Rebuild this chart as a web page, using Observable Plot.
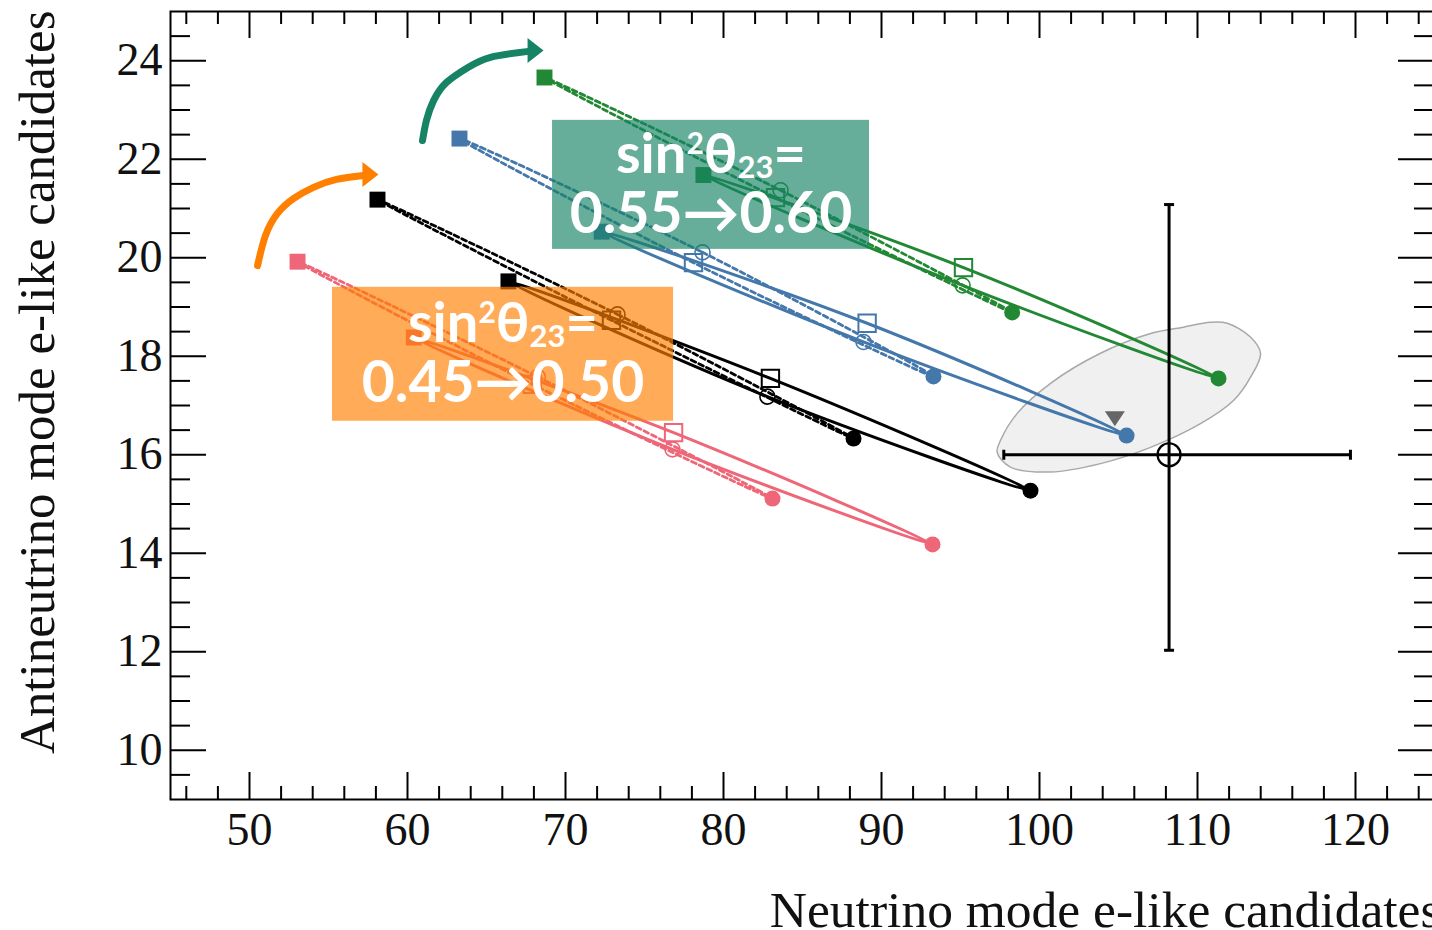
<!DOCTYPE html>
<html><head><meta charset="utf-8">
<script src="https://cdn.jsdelivr.net/npm/d3@7"></script>
<script src="https://cdn.jsdelivr.net/npm/@observablehq/plot@0.6"></script>
<style>
html,body{margin:0;padding:0;overflow:hidden;background:#fff;}
svg{display:block;max-width:none !important;}
</style></head><body><div id="chart"></div>
<script>
// ---------------- data ----------------
const xTitle = "Neutrino mode e-like candidates";
const yTitle = "Antineutrino mode e-like candidates";
const xMajorTicks = [50, 60, 70, 80, 90, 100, 110, 120];
const yMajorTicks = [10, 12, 14, 16, 18, 20, 22, 24];

// sin^2(theta23) families and their colours
const families = ["0.45", "0.50", "0.55", "0.60"];
const familyColors = ["#EE6677", "#000000", "#4477AA", "#228833"];

// every ellipse lists its 4 delta_CP markers in this order:
const markerKinds = ["filledSquare", "openSquare", "filledCircle", "openCircle"];

// normal hierarchy (solid)
const nh045X = [60.40, 76.84, 93.23, 76.77];
const nh045Y = [18.38, 16.45, 14.18, 16.11];
const nh050X = [66.39, 82.97, 99.43, 82.78];
const nh050Y = [19.52, 17.55, 15.27, 17.18];
const nh055X = [72.29, 89.09, 105.51, 88.86];
const nh055Y = [20.53, 18.67, 16.39, 18.29];
const nh060X = [78.73, 95.19, 111.33, 95.13];
const nh060Y = [21.68, 19.80, 17.55, 19.44];
// inverted hierarchy (dashed)
const ih045X = [53.04, 67.90, 83.10, 68.25];
const ih045Y = [19.92, 17.43, 15.11, 17.58];
const ih050X = [58.10, 72.91, 88.23, 73.29];
const ih050Y = [21.18, 18.73, 16.33, 18.85];
const ih055X = [63.29, 78.10, 93.29, 78.67];
const ih055Y = [22.42, 19.90, 17.59, 20.11];
const ih060X = [68.67, 83.29, 98.27, 83.61];
const ih060Y = [23.66, 21.22, 18.89, 21.37];

// observed data with asymmetric errors
const dataX = [108.2], dataY = [16.0];
const dataXLow = [97.74], dataXHigh = [119.68];
const dataYLow = [12.03], dataYHigh = [21.08];

// best fit (grey triangle)
const bestFitX = [104.77], bestFitY = [16.73];

// grey allowed region contour
const contourX = [97.32, 98.16, 100.70, 103.86, 107.03, 110.19, 112.28, 113.35, 113.99, 113.35, 111.88, 110.82, 109.11, 107.03, 103.86, 100.70, 98.59, 97.53];
const contourY = [16.05, 15.75, 15.65, 15.82, 16.15, 16.63, 17.10, 17.57, 18.06, 18.39, 18.67, 18.69, 18.59, 18.46, 18.06, 17.45, 16.84, 16.29];

// annotation boxes
const boxLine1 = "sin²θ₂₃=";
const boxLine2 = ["0.45→0.50", "0.55→0.60"];
const boxX1 = [55.25, 69.18], boxX2 = [76.84, 89.24];
const boxY1 = [16.68, 20.17], boxY2 = [19.40, 22.79];
const boxColors = ["#ff8000", "#178466"];

// curved arrows (path points and tip)
const arrowOrangeX = [50.51, 51.01, 51.77, 52.78, 54.05, 55.51, 57.22];
const arrowOrangeY = [19.84, 20.45, 20.90, 21.20, 21.43, 21.59, 21.67];
const arrowGreenX = [60.95, 61.20, 61.65, 62.47, 63.80, 65.25, 67.66];
const arrowGreenY = [22.38, 22.79, 23.19, 23.56, 23.86, 24.07, 24.19];
const arrowTipX = [58.16, 68.61], arrowTipY = [21.69, 24.21];

// ---------------- layout ----------------
const W = 1440, H = 930, ML = 170, MR = 6, MT = 11, MB = 131;
const PW = W - ML - MR, PH = H - MT - MB;
const serif = "Liberation Serif, Times New Roman, serif";
const sans = "Lato, Open Sans, DejaVu Sans, sans-serif";

const xMinorTicks = d3.range(46, 125, 2).filter(v => v % 10 !== 0);
const yMinorTicks = d3.range(9.5, 25, 0.5).filter(v => v % 2 !== 0);

const pts = (xs, ys) => xs.map((x, i) => ({x, y: ys[i]}));

const ellipses = [
  {f: 0, hier: "IH", xs: ih045X, ys: ih045Y}, {f: 1, hier: "IH", xs: ih050X, ys: ih050Y},
  {f: 2, hier: "IH", xs: ih055X, ys: ih055Y}, {f: 3, hier: "IH", xs: ih060X, ys: ih060Y},
  {f: 0, hier: "NH", xs: nh045X, ys: nh045Y}, {f: 1, hier: "NH", xs: nh050X, ys: nh050Y},
  {f: 2, hier: "NH", xs: nh055X, ys: nh055Y}, {f: 3, hier: "NH", xs: nh060X, ys: nh060Y}
];

const markerStyle = {
  filledSquare: c => ({symbol: "square", r: 9, fill: c, stroke: "none"}),
  openSquare: c => ({symbol: "square", r: 9.8, fill: "none", stroke: c, strokeWidth: 2}),
  filledCircle: c => ({symbol: "circle", r: 8, fill: c, stroke: "none"}),
  openCircle: c => ({symbol: "circle", r: 7.5, fill: "none", stroke: c, strokeWidth: 1.6})
};

const capV = {draw(ctx) { ctx.moveTo(0, -5); ctx.lineTo(0, 5); }};
const capH = {draw(ctx) { ctx.moveTo(-5, 0); ctx.lineTo(5, 0); }};
const headRight = {draw(ctx) { ctx.moveTo(0, 0); ctx.lineTo(-16, -12.5); ctx.lineTo(-16, 12.5); ctx.closePath(); }};
const triDown = {draw(ctx) { ctx.moveTo(-10, -7.5); ctx.lineTo(10, -7.5); ctx.lineTo(0, 7.5); ctx.closePath(); }};

const marks = [];
// grey region
marks.push(Plot.line(pts(contourX, contourY), {x: "x", y: "y", curve: "catmull-rom-closed", fill: "#f0f0f0", stroke: "#a8a8a8", strokeWidth: 1.5}));
// ellipses
for (const e of ellipses) {
  const color = familyColors[e.f];
  const order = e.hier === "NH" ? [0, 1, 2, 3] : [0, 3, 2, 1];
  const p = order.map(i => ({x: e.xs[i], y: e.ys[i]}));
  marks.push(Plot.line(p, {x: "x", y: "y", curve: "catmull-rom-closed", stroke: color,
    strokeWidth: e.hier === "IH" ? 2.8 : 3,
    strokeDasharray: e.hier === "IH" ? "5,3.5" : null}));
}
// markers
for (const kind of ["openCircle", "openSquare", "filledCircle", "filledSquare"]) {
  const k = markerKinds.indexOf(kind);
  for (const e of ellipses) {
    const color = familyColors[e.f];
    marks.push(Plot.dot([{x: e.xs[k], y: e.ys[k]}], {x: "x", y: "y", ...markerStyle[kind](color)}));
  }
}
// data point with errors
const dataRows = dataX.map((x, i) => ({x, y: dataY[i], xl: dataXLow[i], xh: dataXHigh[i], yl: dataYLow[i], yh: dataYHigh[i]}));
marks.push(Plot.ruleY(dataRows, {y: "y", x1: "xl", x2: "xh", stroke: "black", strokeWidth: 3}));
marks.push(Plot.ruleX(dataRows, {x: "x", y1: "yl", y2: "yh", stroke: "black", strokeWidth: 3}));
marks.push(Plot.dot(dataRows, {x: "xl", y: "y", symbol: capV, stroke: "black", strokeWidth: 3}));
marks.push(Plot.dot(dataRows, {x: "xh", y: "y", symbol: capV, stroke: "black", strokeWidth: 3}));
marks.push(Plot.dot(dataRows, {x: "x", y: "yl", symbol: capH, stroke: "black", strokeWidth: 3}));
marks.push(Plot.dot(dataRows, {x: "x", y: "yh", symbol: capH, stroke: "black", strokeWidth: 3}));
marks.push(Plot.dot(dataRows, {x: "x", y: "y", r: 11.5, stroke: "black", strokeWidth: 2.2, fill: "none"}));
// best fit triangle
marks.push(Plot.dot(pts(bestFitX, bestFitY), {x: "x", y: "y", symbol: triDown, fill: "#666666", stroke: "none"}));

// annotation boxes
const boxes = boxLine2.map((t, i) => ({x1: boxX1[i], x2: boxX2[i], y1: boxY1[i], y2: boxY2[i], t, c: boxColors[i],
  cx: (boxX1[i] + boxX2[i]) / 2, cy: (boxY1[i] + boxY2[i]) / 2}));
for (const b of boxes) {
  marks.push(Plot.rect([b], {x1: "x1", x2: "x2", y1: "y1", y2: "y2", fill: b.c, fillOpacity: 0.66}));
}
marks.push(Plot.text(boxes, {x: "cx", y: "cy", text: () => boxLine1, dy: -12, lineAnchor: "bottom", fill: "white",
  fontSize: 56, fontWeight: "bold", fontFamily: sans}));
marks.push(Plot.text(boxes, {x: "cx", y: "cy", text: "t", dy: 48, lineAnchor: "bottom", fill: "white",
  fontSize: 57, fontWeight: "bold", fontFamily: sans}));

// arrows
marks.push(Plot.line(pts(arrowOrangeX, arrowOrangeY), {x: "x", y: "y", curve: "natural", stroke: "#ff8000", strokeWidth: 7}));
marks.push(Plot.line(pts(arrowGreenX, arrowGreenY), {x: "x", y: "y", curve: "natural", stroke: "#168365", strokeWidth: 7}));
marks.push(Plot.dot([{x: arrowTipX[0], y: arrowTipY[0]}], {x: "x", y: "y", symbol: headRight, fill: "#ff8000", stroke: "none"}));
marks.push(Plot.dot([{x: arrowTipX[1], y: arrowTipY[1]}], {x: "x", y: "y", symbol: headRight, fill: "#168365", stroke: "none"}));

// ticks (inward, on all four sides)
marks.push(Plot.tickX(xMajorTicks, {x: d => d, insetTop: PH - 27, stroke: "black", strokeWidth: 2}));
marks.push(Plot.tickX(xMajorTicks, {x: d => d, insetBottom: PH - 27, stroke: "black", strokeWidth: 2}));
marks.push(Plot.tickX(xMinorTicks, {x: d => d, insetTop: PH - 13, stroke: "black", strokeWidth: 2}));
marks.push(Plot.tickX(xMinorTicks, {x: d => d, insetBottom: PH - 13, stroke: "black", strokeWidth: 2}));
marks.push(Plot.tickY(yMajorTicks, {y: d => d, insetRight: PW - 36, stroke: "black", strokeWidth: 2}));
marks.push(Plot.tickY(yMajorTicks, {y: d => d, insetLeft: PW - 36, stroke: "black", strokeWidth: 2}));
marks.push(Plot.tickY(yMinorTicks, {y: d => d, insetRight: PW - 20, stroke: "black", strokeWidth: 2}));
marks.push(Plot.tickY(yMinorTicks, {y: d => d, insetLeft: PW - 20, stroke: "black", strokeWidth: 2}));
marks.push(Plot.frame({stroke: "black", strokeWidth: 2}));

// tick labels
marks.push(Plot.axisX({ticks: xMajorTicks, anchor: "bottom", tickSize: 0, tickPadding: 13, label: null,
  fontSize: 46, fontFamily: serif, fill: "#111"}));
marks.push(Plot.axisY({ticks: yMajorTicks, anchor: "left", tickSize: 0, tickPadding: 8, label: null,
  fontSize: 46, fontFamily: serif, fill: "#111"}));

// axis titles
marks.push(Plot.text([xTitle], {text: d => d, frameAnchor: "bottom-right", textAnchor: "end", lineAnchor: "bottom",
  dx: 6, dy: 127, fontSize: 51.5, fontFamily: serif, fill: "#111"}));
marks.push(Plot.text([yTitle], {text: d => d, frameAnchor: "top-left", textAnchor: "end", lineAnchor: "bottom",
  rotate: -90, dx: -117, dy: -1, fontSize: 51, fontFamily: serif, fill: "#111"}));

const svg = Plot.plot({
  width: W, height: H, marginLeft: ML, marginRight: MR, marginTop: MT, marginBottom: MB,
  x: {domain: [45, 125]}, y: {domain: [9, 25]},
  style: {background: "white", maxWidth: "none"},
  marks
});
svg.setAttribute("width", W);
svg.setAttribute("height", H);
svg.style.maxWidth = "none";
svg.style.width = W + "px";
svg.style.height = H + "px";

// rich text for sin²θ₂₃=
d3.select(svg).selectAll("text").filter(function () { return this.textContent === boxLine1; }).each(function () {
  const t = d3.select(this);
  t.text(null);
  t.append("tspan").text("sin");
  t.append("tspan").attr("font-size", 30).attr("dy", -19).text("2");
  t.append("tspan").attr("dy", 19).text("θ");
  t.append("tspan").attr("font-size", 31).attr("dy", 5).text("23");
  t.append("tspan").attr("dy", -5).text("=");
});

document.getElementById("chart").appendChild(svg);
</script></body></html>
